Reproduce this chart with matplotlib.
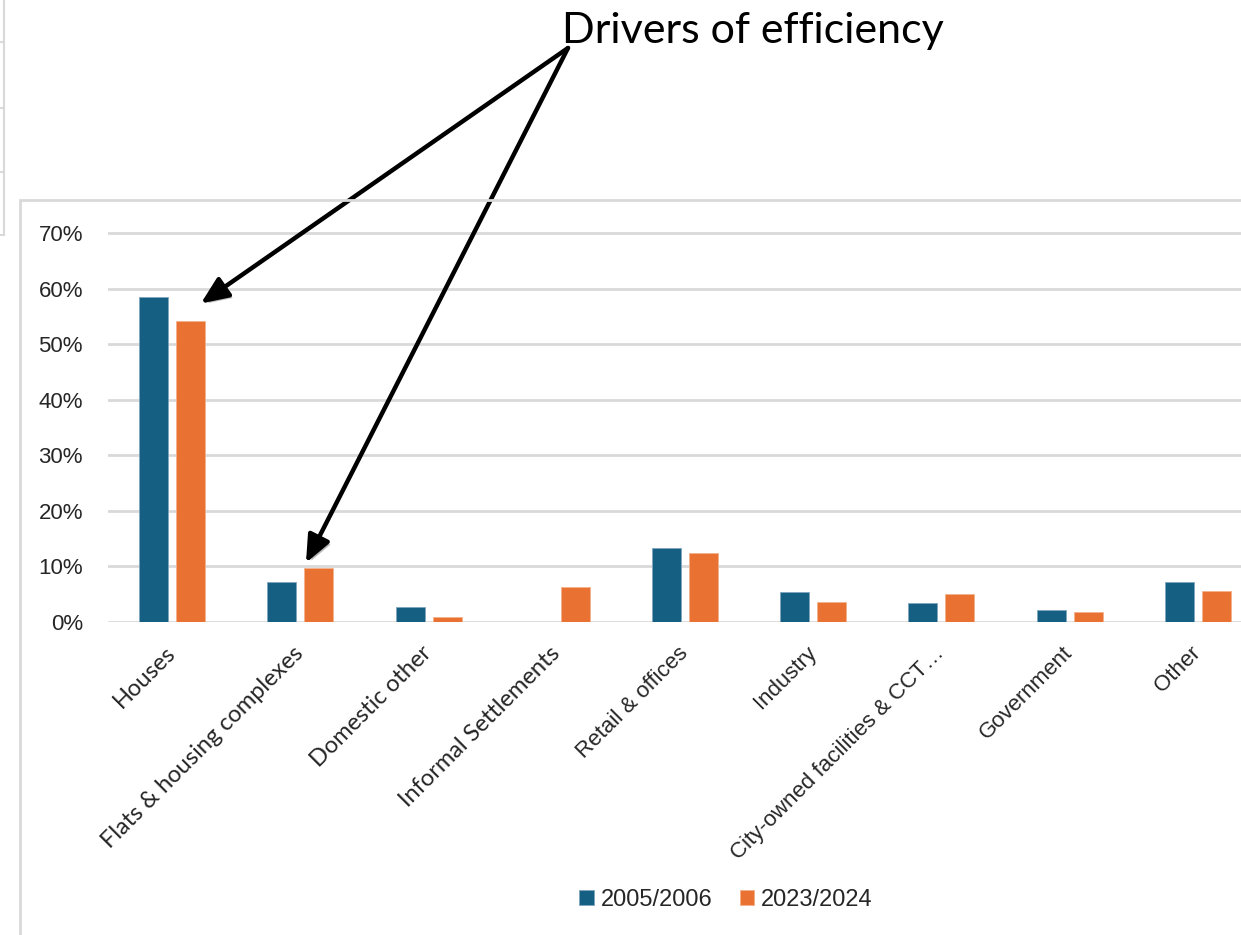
import matplotlib
matplotlib.use("Agg")
import matplotlib.pyplot as plt
from matplotlib.patches import Patch, Rectangle
from matplotlib.lines import Line2D
from matplotlib.transforms import ScaledTranslation
import matplotlib.patheffects as pe
import numpy as np

# --- data -------------------------------------------------------------
categories = ["Houses", "Flats & housing complexes", "Domestic other",
              "Informal Settlements", "Retail & offices", "Industry",
              "City-owned facilities & CCT\u2026", "Government", "Other"]
share_2005 = [58.4, 7.2, 2.6, 0.0, 13.2, 5.3, 3.4, 2.1, 7.2]
share_2023 = [54.2, 9.6, 0.9, 6.2, 12.4, 3.5, 5.0, 1.8, 5.5]
series_labels = ["2005/2006", "2023/2024"]
y_ticks = [0, 10, 20, 30, 40, 50, 60, 70]
title_text = "Drivers of efficiency"

BLUE = "#156082"
ORANGE = "#E97132"
GRID = "#d9d9d9"
TEXT = "#262626"

W, H = 1241, 935
fig = plt.figure(figsize=(W / 100, H / 100), dpi=100)


def px(x0, y0, x1, y1):
    """Figure-fraction rect from pixel box (top-left origin)."""
    return [x0 / W, 1 - y1 / H, (x1 - x0) / W, (y1 - y0) / H]


# chart frame
fig.patches.append(Rectangle((20 / W, -0.05), 1.1, 1 - 200 / H + 0.05,
                             transform=fig.transFigure, fill=False,
                             edgecolor=GRID, linewidth=2.0))
# neighbouring table edge on the left
fig.add_artist(Line2D([4 / W, 4 / W], [1, 1 - 235 / H], transform=fig.transFigure,
                      color=GRID, lw=1.5))
for yy in (42, 108, 172, 235):
    fig.add_artist(Line2D([0, 4 / W], [1 - yy / H] * 2, transform=fig.transFigure,
                          color=GRID, lw=1.5))

# plot area
y_zero, y_top_tick = 621.7, 233.0
ppu = (y_zero - y_top_tick) / 70.0
ymax = 71.5
ax = fig.add_axes(px(108, y_zero - ymax * ppu, 1262, y_zero))
ax.set_xlim(-0.5, len(categories) - 0.5)
ax.set_ylim(0, ymax)

x = np.arange(len(categories))
bw, off = 0.226, 0.144
ax.bar(x - off, share_2005, bw, color=BLUE, edgecolor="#7fa6bd", linewidth=0.6, zorder=3)
ax.bar(x + off, share_2023, bw, color=ORANGE, edgecolor="#f4b08a", linewidth=0.6, zorder=3)

for s in ax.spines.values():
    s.set_visible(False)
ax.set_yticks(y_ticks)
ax.set_yticklabels([f"{t}%" for t in y_ticks], fontsize=16, color=TEXT,
                   family="Liberation Sans")
ax.yaxis.grid(True, color=GRID, linewidth=2.0, zorder=0)
ax.tick_params(axis="y", length=0, pad=18)
ax.set_xticks(x)
ax.tick_params(axis="x", length=0, labelbottom=False)

# category labels, rotated 45 degrees
label_shift = ScaledTranslation(0.0, -0.28, fig.dpi_scale_trans)
for i, name in enumerate(categories):
    ax.text(x[i], 0, name, transform=ax.get_xaxis_transform() + label_shift,
            rotation=45, rotation_mode="anchor", ha="right", va="center",
            color=TEXT, family="Lato" if i < 4 else "Liberation Sans",
            fontsize=17 if i < 4 else 16)

# legend
handles = [Patch(facecolor=BLUE, edgecolor="#7fa6bd", lw=0.6),
           Patch(facecolor=ORANGE, edgecolor="#f4b08a", lw=0.6)]
fig.legend(handles, series_labels, loc="center", bbox_to_anchor=(726 / W, 1 - 900 / H),
           ncol=2, frameon=False, prop={"family": "Liberation Sans", "size": 17},
           handlelength=0.6, handleheight=0.6, handletextpad=0.3,
           columnspacing=1.15, labelcolor=TEXT)

# title and callout arrows
fig.text(753 / W, 1 - 43 / H, title_text, ha="center", va="baseline",
         fontsize=31, family="Lato", color="black")

start = (568 / W, 1 - 48 / H)
targets = [(x[0] + off + 0.08, share_2023[0] + 3.1),
           (x[1] + off - 0.1, share_2023[1] + 1.0)]
shadow = [pe.SimplePatchShadow(offset=(2, -2), shadow_rgbFace="#888888", alpha=0.6),
          pe.Normal()]
for tx, ty in targets:
    ax.annotate("", xy=(tx, ty), xycoords="data", xytext=start,
                textcoords="figure fraction",
                arrowprops=dict(arrowstyle="-|>,head_length=0.75,head_width=0.32",
                                color="black", lw=3.2, mutation_scale=22,
                                shrinkA=0, shrinkB=0, path_effects=shadow),
                annotation_clip=False)

fig.savefig("out.png", dpi=100, facecolor="white")
